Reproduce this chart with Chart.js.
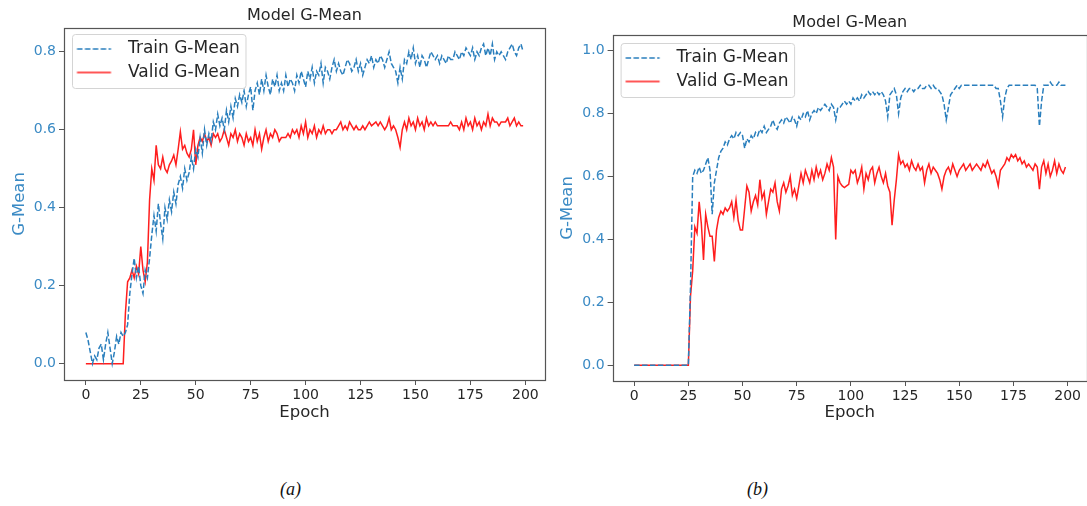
<!DOCTYPE html>
<html><head><meta charset="utf-8">
<script src="https://cdn.jsdelivr.net/npm/chart.js@4.4.0/dist/chart.umd.min.js"></script>
<style>
html,body{margin:0;padding:0;background:#fff;width:1087px;height:506px;overflow:hidden;}
body{position:relative;}
canvas{position:absolute;top:0;}
#ca{left:0;}
#cb{left:550px;}
.cap{position:absolute;top:478px;font-family:"Liberation Serif","DejaVu Serif",serif;font-style:italic;font-size:18px;color:#111;line-height:22px;}
</style></head><body>
<canvas id="ca" width="550" height="423"></canvas>
<canvas id="cb" width="537" height="423"></canvas>
<div class="cap" style="left:280px">(a)</div>
<div class="cap" style="left:747px">(b)</div>
<script>
// ---- data ----
const trainA = [
0.08,0.06,0.03,0.00,0.02,0.01,0.04,0.05,0.01,0.05,
0.08,0.04,0.00,0.03,0.07,0.05,0.08,0.07,0.08,0.10,
0.18,0.23,0.27,0.22,0.25,0.20,0.18,0.24,0.22,0.27,
0.33,0.38,0.34,0.41,0.36,0.32,0.40,0.37,0.42,0.39,
0.44,0.41,0.46,0.48,0.45,0.50,0.47,0.49,0.53,0.50,
0.55,0.53,0.58,0.54,0.60,0.56,0.59,0.57,0.62,0.60,
0.64,0.61,0.63,0.60,0.65,0.62,0.66,0.63,0.68,0.66,
0.69,0.67,0.70,0.66,0.69,0.71,0.65,0.70,0.72,0.69,
0.73,0.70,0.74,0.71,0.69,0.73,0.71,0.74,0.70,0.72,
0.70,0.74,0.71,0.73,0.72,0.70,0.74,0.72,0.75,0.73,
0.71,0.75,0.73,0.76,0.72,0.75,0.74,0.77,0.72,0.76,
0.75,0.73,0.76,0.78,0.75,0.77,0.75,0.74,0.76,0.78,
0.77,0.75,0.76,0.78,0.75,0.77,0.74,0.76,0.78,0.77,
0.79,0.76,0.78,0.77,0.79,0.78,0.76,0.78,0.80,0.77,
0.76,0.75,0.72,0.76,0.73,0.78,0.77,0.80,0.78,0.81,
0.77,0.79,0.76,0.79,0.78,0.76,0.78,0.80,0.79,0.78,
0.79,0.77,0.79,0.78,0.77,0.79,0.78,0.78,0.80,0.79,
0.78,0.80,0.79,0.81,0.80,0.79,0.81,0.78,0.80,0.79,
0.81,0.82,0.79,0.81,0.79,0.82,0.78,0.80,0.79,0.80,
0.79,0.78,0.80,0.81,0.82,0.80,0.79,0.81,0.82,0.80];
const validA = [
0,0,0,0,0,0,0,0,0,0,
0,0,0,0,0,0,0,0,0.13,0.21,
0.22,0.24,0.22,0.25,0.23,0.30,0.24,0.21,0.26,0.42,
0.50,0.47,0.56,0.51,0.50,0.53,0.50,0.49,0.51,0.52,
0.535,0.51,0.55,0.595,0.55,0.56,0.54,0.53,0.55,0.60,
0.51,0.56,0.58,0.57,0.59,0.57,0.58,0.56,0.59,0.58,
0.59,0.57,0.58,0.60,0.58,0.56,0.59,0.58,0.60,0.57,
0.59,0.58,0.56,0.59,0.57,0.58,0.56,0.60,0.57,0.59,
0.55,0.58,0.60,0.57,0.59,0.58,0.60,0.59,0.57,0.58,
0.58,0.58,0.59,0.58,0.60,0.59,0.60,0.58,0.61,0.59,
0.62,0.58,0.60,0.59,0.61,0.58,0.60,0.59,0.61,0.59,
0.60,0.60,0.59,0.60,0.60,0.61,0.62,0.60,0.61,0.60,
0.62,0.61,0.60,0.61,0.60,0.60,0.61,0.60,0.61,0.62,
0.61,0.615,0.62,0.61,0.62,0.61,0.60,0.61,0.63,0.60,
0.61,0.60,0.58,0.555,0.60,0.62,0.60,0.63,0.61,0.62,
0.60,0.63,0.61,0.62,0.60,0.63,0.61,0.62,0.61,0.62,
0.61,0.61,0.61,0.61,0.61,0.61,0.62,0.61,0.61,0.61,
0.60,0.62,0.60,0.63,0.61,0.62,0.60,0.63,0.61,0.62,
0.60,0.62,0.61,0.64,0.61,0.63,0.62,0.62,0.61,0.62,
0.62,0.62,0.63,0.61,0.62,0.63,0.61,0.62,0.61,0.61];
const trainB = [
0,0,0,0,0,0,0,0,0,0,
0,0,0,0,0,0,0,0,0,0,
0,0,0,0,0,0,0.25,0.60,0.62,0.61,
0.63,0.61,0.62,0.64,0.66,0.62,0.48,0.58,0.62,0.66,
0.68,0.69,0.71,0.70,0.72,0.73,0.72,0.74,0.73,0.74,
0.73,0.69,0.72,0.71,0.73,0.72,0.74,0.73,0.75,0.74,
0.76,0.74,0.75,0.76,0.78,0.76,0.75,0.77,0.78,0.77,
0.79,0.78,0.77,0.79,0.78,0.76,0.79,0.78,0.80,0.79,
0.81,0.78,0.80,0.81,0.80,0.82,0.81,0.82,0.83,0.82,
0.81,0.83,0.82,0.78,0.82,0.82,0.83,0.84,0.83,0.84,
0.83,0.85,0.84,0.85,0.84,0.86,0.85,0.86,0.87,0.86,
0.87,0.86,0.87,0.86,0.87,0.86,0.84,0.79,0.86,0.87,
0.88,0.86,0.80,0.85,0.87,0.88,0.87,0.88,0.88,0.87,
0.88,0.88,0.89,0.88,0.88,0.89,0.89,0.88,0.89,0.88,
0.88,0.87,0.86,0.83,0.78,0.82,0.86,0.87,0.88,0.89,
0.88,0.89,0.89,0.89,0.89,0.89,0.89,0.89,0.89,0.89,
0.89,0.89,0.89,0.89,0.89,0.89,0.89,0.88,0.88,0.84,
0.79,0.85,0.88,0.89,0.89,0.89,0.89,0.89,0.89,0.89,
0.89,0.89,0.89,0.89,0.89,0.89,0.88,0.76,0.84,0.89,
0.89,0.89,0.90,0.89,0.89,0.89,0.90,0.89,0.89,0.89];
const validB = [
0,0,0,0,0,0,0,0,0,0,
0,0,0,0,0,0,0,0,0,0,
0,0,0,0,0,0,0.22,0.30,0.44,0.42,
0.52,0.45,0.335,0.48,0.44,0.41,0.41,0.33,0.43,0.47,
0.49,0.48,0.50,0.49,0.50,0.52,0.47,0.525,0.46,0.43,
0.43,0.50,0.57,0.55,0.49,0.52,0.54,0.51,0.59,0.53,
0.55,0.48,0.52,0.56,0.55,0.58,0.52,0.49,0.56,0.58,
0.55,0.57,0.60,0.54,0.56,0.53,0.57,0.61,0.58,0.62,
0.60,0.58,0.62,0.59,0.63,0.60,0.62,0.59,0.61,0.64,
0.62,0.66,0.63,0.40,0.60,0.58,0.57,0.565,0.57,0.575,
0.62,0.61,0.62,0.58,0.60,0.63,0.56,0.61,0.59,0.62,
0.63,0.58,0.61,0.63,0.60,0.58,0.61,0.57,0.55,0.445,
0.525,0.59,0.67,0.64,0.65,0.63,0.64,0.62,0.65,0.63,
0.62,0.64,0.62,0.63,0.58,0.62,0.64,0.61,0.63,0.62,
0.61,0.59,0.56,0.60,0.62,0.63,0.61,0.64,0.62,0.60,
0.62,0.63,0.64,0.62,0.63,0.64,0.62,0.63,0.64,0.63,
0.62,0.64,0.63,0.65,0.63,0.61,0.62,0.60,0.57,0.62,
0.63,0.64,0.66,0.65,0.67,0.66,0.67,0.65,0.66,0.64,
0.65,0.63,0.64,0.63,0.62,0.64,0.63,0.56,0.63,0.65,
0.61,0.64,0.60,0.62,0.65,0.61,0.64,0.62,0.61,0.63];
const xTicks = [0,25,50,75,100,125,150,175,200];
const yTicksA = [0.0,0.2,0.4,0.6,0.8];
const yTicksB = [0.0,0.2,0.4,0.6,0.8,1.0];
const seriesNames = ['Train G-Mean','Valid G-Mean'];
const chartTitle = 'Model G-Mean';
const xTitle = 'Epoch';
const yTitle = 'G-Mean';

// ---- styling ----
const FONT = "'DejaVu Sans', sans-serif";
const BLUE = '#2a7fbd', RED = '#ff1e1e', TBLUE = '#3a8ac4', INK = '#262626', SPINE = '#555555';

function handleImg(color, dash) {
  const c = document.createElement('canvas');
  c.width = 49; c.height = 6;
  const g = c.getContext('2d');
  g.strokeStyle = color; g.lineWidth = 1.6; g.setLineDash(dash);
  g.beginPath(); g.moveTo(6.5, 3); g.lineTo(40.5, 3); g.stroke();
  return c;
}
const handles = [handleImg(BLUE, [5.5, 2.4]), handleImg(RED, [])];

function drawLegendFrame(chart) {
  const lg = chart.legend;
  if (!lg || !lg.legendHitBoxes || !lg.legendHitBoxes.length) return;
  const hb = lg.legendHitBoxes;
  const x0 = hb[0].left + 2, y0 = hb[0].top - 6;
  const x1 = Math.max(...hb.map(h => h.left + h.width)) + 6;
  const last = hb[hb.length - 1];
  const y1 = last.top + last.height + 7.5;
  const ctx = chart.ctx;
  ctx.save();
  ctx.beginPath();
  ctx.roundRect(x0, y0, x1 - x0, y1 - y0, 3);
  ctx.fillStyle = 'rgba(255,255,255,0.8)';
  ctx.fill();
  ctx.strokeStyle = '#d4d4d4';
  ctx.lineWidth = 1;
  ctx.stroke();
  ctx.restore();
}

const framePlugin = {
  id: 'frame',
  beforeLayout(chart) {
    const lg = chart.legend;
    if (lg) {
      lg._layers = () => [{z: 1, draw: (area) => { drawLegendFrame(chart); lg.draw(area); }}];
    }
  },
  afterDatasetsDraw(chart) {
    const {left, top, right, bottom} = chart.chartArea;
    const ctx = chart.ctx;
    ctx.save();
    ctx.strokeStyle = SPINE;
    ctx.lineWidth = 1.2;
    ctx.strokeRect(Math.round(left) + 0.5, Math.round(top) + 0.5, Math.round(right - left), Math.round(bottom - top));
    ctx.restore();
  }
};

function makeChart(id, train, valid, yTicks, cfg) {
  return new Chart(document.getElementById(id), {
    type: 'line',
    data: {
      datasets: [
        {label: seriesNames[0], data: train.map((v, i) => ({x: i, y: v})), borderColor: BLUE, borderWidth: 1.5, borderDash: [5.5, 2.4], pointRadius: 0, tension: 0, fill: false},
        {label: seriesNames[1], data: valid.map((v, i) => ({x: i, y: v})), borderColor: RED, borderWidth: 1.5, pointRadius: 0, tension: 0, fill: false}
      ]
    },
    options: {
      responsive: false, animation: false, events: [],
      layout: {padding: {left: 0, right: cfg.padRight, top: 0, bottom: 0}},
      plugins: {
        tooltip: {enabled: false},
        title: {display: true, fullSize: false, text: chartTitle, color: INK, font: {family: FONT, size: 16, weight: 'normal'}, padding: {top: cfg.titleTop, bottom: cfg.titleBottom}},
        legend: {
          position: 'chartArea', align: 'start',
          title: {display: true, text: '', font: {size: 1, lineHeight: 1}, padding: {top: cfg.legendTop, bottom: 0}},
          labels: {
            usePointStyle: true, pointStyleWidth: 49, padding: 6.5, color: INK,
            font: {family: FONT, size: 17},
            generateLabels: (ch) => ch.data.datasets.map((ds, i) => ({text: ds.label, fontColor: INK, pointStyle: handles[i], fillStyle: 'rgba(0,0,0,0)', strokeStyle: 'rgba(0,0,0,0)', lineWidth: 0, datasetIndex: i, hidden: false}))
          }
        }
      },
      scales: {
        x: {
          type: 'linear', min: -9.95, max: 208.95,
          afterBuildTicks: (s) => { s.ticks = xTicks.map(v => ({value: v})); },
          afterFit: (s) => { s.height = cfg.xHeight; },
          ticks: {color: INK, font: {family: FONT, size: 14}, padding: 2, maxRotation: 0, autoSkip: false},
          grid: {display: true, drawOnChartArea: false, drawTicks: true, tickLength: 5, color: SPINE, tickWidth: 1},
          border: {display: false},
          title: {display: true, text: xTitle, color: INK, font: {family: FONT, size: 16.5}, padding: 0}
        },
        y: {
          type: 'linear', min: cfg.yMin, max: cfg.yMax,
          afterBuildTicks: (s) => { s.ticks = yTicks.map(v => ({value: v})); },
          afterFit: (s) => { s.width = cfg.yWidth; },
          ticks: {color: TBLUE, font: {family: FONT, size: 14}, padding: 3, callback: (v) => Number(v).toFixed(1)},
          grid: {display: true, drawOnChartArea: false, drawTicks: true, tickLength: 5, color: SPINE, tickWidth: 1},
          border: {display: false},
          title: {display: true, text: yTitle, color: TBLUE, font: {family: FONT, size: 16.5}, padding: {top: cfg.yTitlePad, bottom: 0}}
        }
      }
    },
    plugins: [framePlugin]
  });
}

makeChart('ca', trainA, validA, yTicksA, {padRight: 5, titleTop: 6.1, titleBottom: 2.7, xHeight: 43, yWidth: 64, yMin: -0.042, yMax: 0.861, yTitlePad: 9.4, legendTop: 33});
makeChart('cb', trainB, validB, yTicksB, {padRight: 0, titleTop: 13.7, titleBottom: 2.1, xHeight: 42, yWidth: 62.6, yMin: -0.05, yMax: 1.05, yTitlePad: 8, legendTop: 42});
</script>
</body></html>
